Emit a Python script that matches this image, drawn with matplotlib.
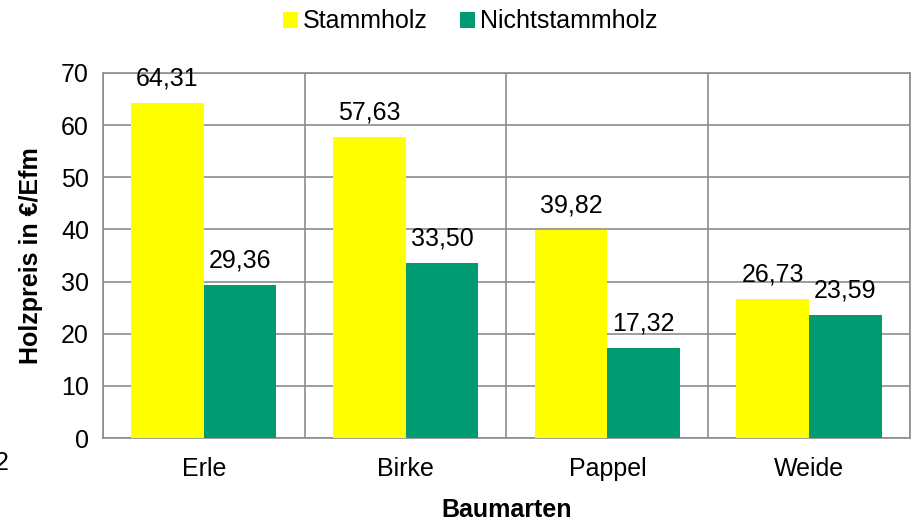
import numpy as np
import matplotlib.pyplot as plt

plt.rcParams['font.family'] = ['Liberation Sans', 'DejaVu Sans']

# Données
baumarten = ["Erle", "Birke", "Pappel", "Weide"]
stammholz = [64.31, 57.63, 39.82, 26.73]
nichtstammholz = [29.36, 33.50, 17.32, 23.59]

gelb = "#FFFF00"
gruen = "#009B72"
grau = "#8C8C8C"
fs = 18

fig = plt.figure(figsize=(9.13, 5.21), dpi=100)
ax = fig.add_axes([0.1128, 0.1593, 0.8839, 0.7006])

x = np.arange(len(baumarten))
w = 0.36
b1 = ax.bar(x - w / 2, stammholz, w, color=gelb, label="Stammholz", zorder=3)
b2 = ax.bar(x + w / 2, nichtstammholz, w, color=gruen, label="Nichtstammholz", zorder=3)

def fmt(v):
    return f"{v:.2f}".replace(".", ",")

for bars, vals in [(b1, stammholz), (b2, nichtstammholz)]:
    for rect, v in zip(bars, vals):
        ax.annotate(fmt(v), (rect.get_x() + rect.get_width() / 2, v),
                    xytext=(0, 9), textcoords="offset points",
                    ha="center", va="bottom", fontsize=fs, zorder=4)

ax.set_xlim(-0.5, len(baumarten) - 0.5)
ax.set_ylim(0, 70)
ax.set_yticks(range(0, 71, 10))
ax.set_xticks(x)
ax.set_xticklabels(baumarten)
ax.set_xticks(np.arange(-0.5, len(baumarten)), minor=True)
ax.tick_params(axis="x", which="both", length=0, labelsize=fs, pad=14)
ax.tick_params(axis="y", which="both", length=0, labelsize=fs, pad=10)
ax.grid(axis="y", color=grau, linewidth=1.2, zorder=0)
ax.grid(axis="x", which="minor", color=grau, linewidth=1.2, zorder=0)
for s in ax.spines.values():
    s.set_color(grau)
    s.set_linewidth(1.2)

ax.set_xlabel("Baumarten", fontsize=fs, fontweight="bold", labelpad=12)
ax.set_ylabel("Holzpreis in €/Efm", fontsize=fs, fontweight="bold", labelpad=13)

fig.legend(loc="upper center", bbox_to_anchor=(0.515, 1.025), ncol=2, frameon=False,
           fontsize=fs, handlelength=0.6, handleheight=0.6, handletextpad=0.2,
           columnspacing=1.3)

fig.text(-0.006, 0.112, "2", fontsize=fs, ha="left", va="center")

fig.savefig("out.png", dpi=100)
